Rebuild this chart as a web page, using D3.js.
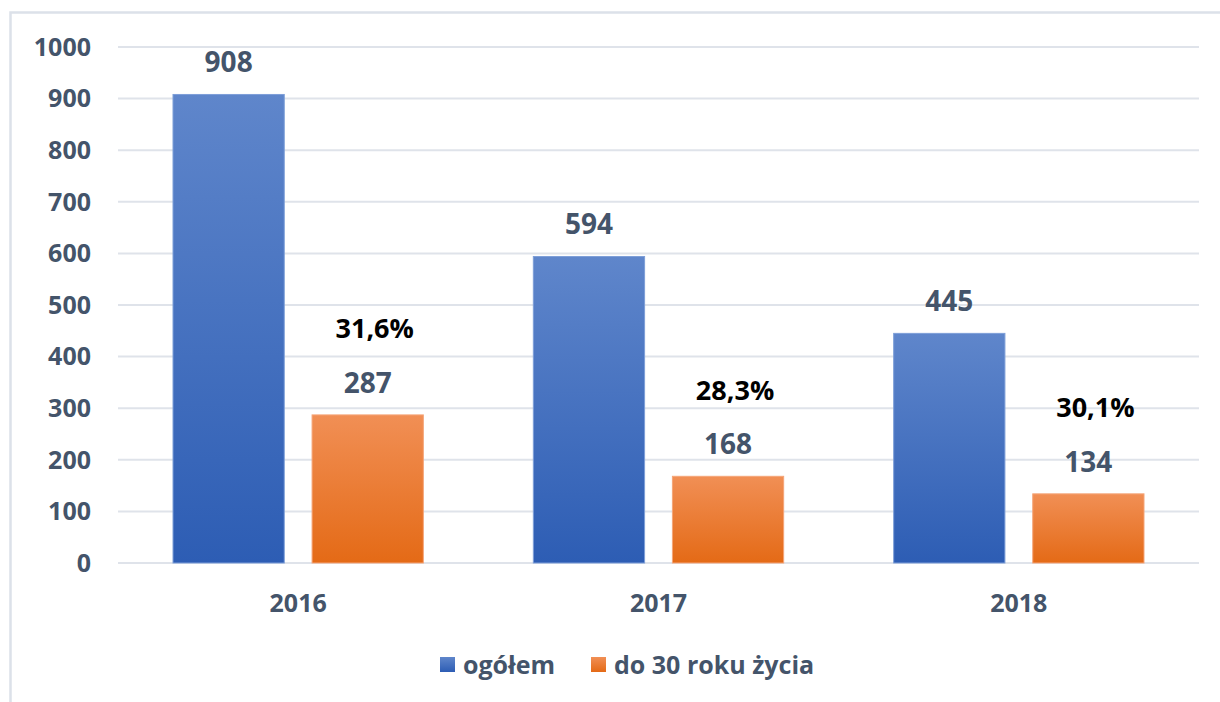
<!DOCTYPE html>
<html>
<head>
<meta charset="utf-8">
<script src="https://cdn.jsdelivr.net/npm/d3@7"></script>
<style>
  html, body { margin: 0; padding: 0; background: #fff; }
  svg { display: block; }
</style>
</head>
<body>
<svg id="chart" width="1220" height="702"></svg>
<script>
const years = ["2016", "2017", "2018"];
const ogolem = [908, 594, 445];
const do30 = [287, 168, 134];
const shares = ["31,6%", "28,3%", "30,1%"];
const yTicks = [0, 100, 200, 300, 400, 500, 600, 700, 800, 900, 1000];
const seriesNames = ["ogółem", "do 30 roku życia"];

const svg = d3.select("#chart");
const width = +svg.attr("width"), height = +svg.attr("height");
const font = "'Open Sans', 'Noto Sans', sans-serif";
const textColor = "#44546a";

const defs = svg.append("defs");
const gradients = [
  { id: "gBlue", top: "#5f86cb", bottom: "#2d5db4" },
  { id: "gOrange", top: "#f18f55", bottom: "#e46a16" }
];
gradients.forEach(g => {
  const lg = defs.append("linearGradient")
    .attr("id", g.id)
    .attr("x1", 0).attr("y1", 0).attr("x2", 0).attr("y2", 1);
  lg.append("stop").attr("offset", "0%").attr("stop-color", g.top);
  lg.append("stop").attr("offset", "100%").attr("stop-color", g.bottom);
});

// outer frame (only top and left visible in the crop)
svg.append("rect")
  .attr("x", 10.5).attr("y", 12.5)
  .attr("width", width + 20).attr("height", height + 20)
  .attr("fill", "none")
  .attr("stroke", "#dce1e9")
  .attr("stroke-width", 2.5);

const x0 = d3.scaleBand().domain(years).range([118, 1199]);
const x1 = d3.scaleBand().domain([0, 1]).range([55, x0.bandwidth() - 55]).paddingInner(0.2);
const y = d3.scaleLinear().domain([0, 1000]).range([563, 47]);

// gridlines
svg.append("g")
  .selectAll("line")
  .data(yTicks)
  .join("line")
  .attr("x1", 118).attr("x2", 1199)
  .attr("y1", d => y(d)).attr("y2", d => y(d))
  .attr("stroke", "#dfe3ea")
  .attr("stroke-width", 2);

// y tick labels
svg.append("g")
  .selectAll("text")
  .data(yTicks)
  .join("text")
  .attr("x", 91)
  .attr("y", d => y(d))
  .attr("dy", "0.35em")
  .attr("text-anchor", "end")
  .attr("font-family", font)
  .attr("font-weight", 700)
  .attr("font-size", 25)
  .attr("fill", textColor)
  .text(d => d);

// x labels
svg.append("g")
  .selectAll("text")
  .data(years)
  .join("text")
  .attr("x", d => x0(d) + x0.bandwidth() / 2)
  .attr("y", 603)
  .attr("dy", "0.35em")
  .attr("text-anchor", "middle")
  .attr("font-family", font)
  .attr("font-weight", 700)
  .attr("font-size", 25)
  .attr("fill", textColor)
  .text(d => d);

const rows = years.map((yr, i) => ({ year: yr, vals: [ogolem[i], do30[i]], share: shares[i] }));
const fills = ["url(#gBlue)", "url(#gOrange)"];
const edges = ["#7e9fd8", "#f5a578"];

const groups = svg.append("g")
  .selectAll("g")
  .data(rows)
  .join("g")
  .attr("transform", d => `translate(${x0(d.year)},0)`);

groups.selectAll("rect")
  .data(d => d.vals.map((v, k) => ({ v, k })))
  .join("rect")
  .attr("x", d => x1(d.k))
  .attr("y", d => y(d.v))
  .attr("width", x1.bandwidth())
  .attr("height", d => y(0) - y(d.v))
  .attr("fill", d => fills[d.k])
  .attr("stroke", d => edges[d.k])
  .attr("stroke-width", 1);

groups.selectAll("text.val")
  .data(d => d.vals.map((v, k) => ({ v, k })))
  .join("text")
  .attr("class", "val")
  .attr("x", d => x1(d.k) + x1.bandwidth() / 2)
  .attr("y", d => y(d.v) - 32)
  .attr("dy", "0.35em")
  .attr("text-anchor", "middle")
  .attr("font-family", font)
  .attr("font-weight", 700)
  .attr("font-size", 28)
  .attr("fill", textColor)
  .text(d => d.v);

// share of under-30 in total
groups.append("text")
  .attr("x", d => x1(1) + x1.bandwidth() / 2 + 7)
  .attr("y", d => y(d.vals[1]) - 86)
  .attr("dy", "0.35em")
  .attr("text-anchor", "middle")
  .attr("font-family", font)
  .attr("font-weight", 700)
  .attr("font-size", 27)
  .attr("fill", "#000")
  .text(d => d.share);

// legend
const legendX = [440, 591];
const legend = svg.append("g")
  .selectAll("g")
  .data(seriesNames)
  .join("g")
  .attr("transform", (d, i) => `translate(${legendX[i]},665)`);

legend.append("rect")
  .attr("x", 0).attr("y", -8)
  .attr("width", 15).attr("height", 15)
  .attr("fill", (d, i) => fills[i]);

legend.append("text")
  .attr("x", 23)
  .attr("y", 0)
  .attr("dy", "0.35em")
  .attr("font-family", font)
  .attr("font-weight", 700)
  .attr("font-size", 25)
  .attr("fill", textColor)
  .text(d => d);
</script>
</body>
</html>
